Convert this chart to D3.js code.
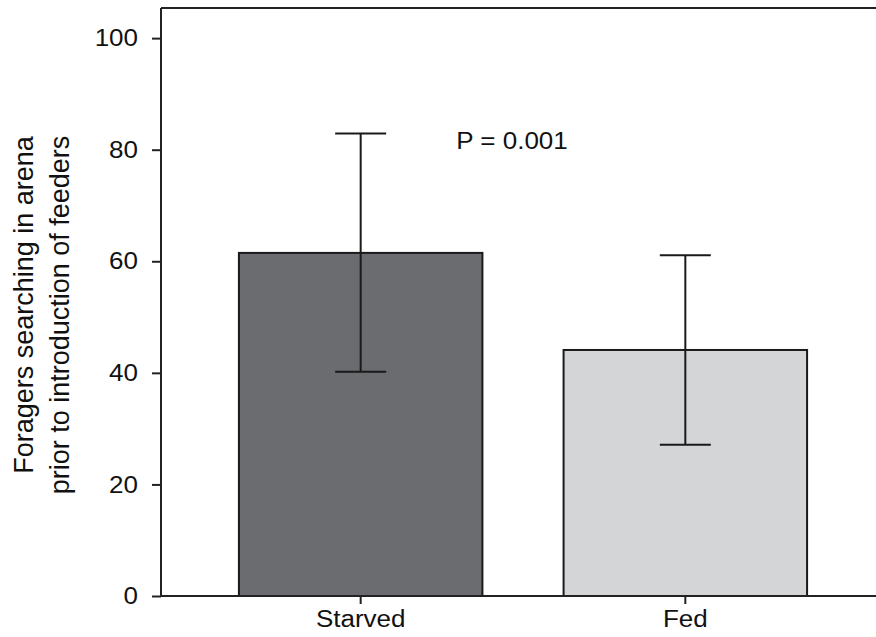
<!DOCTYPE html>
<html><head><meta charset="utf-8">
<script src="https://cdn.jsdelivr.net/npm/d3@7"></script>
<style>body{margin:0;background:#fff;}svg{display:block;}text{font-family:"Liberation Sans",Arial,sans-serif;fill:#111;}</style>
</head><body>
<svg id="c" width="876" height="637"></svg>
<script>
const categories = ["Starved", "Fed"];
const means = [61.5, 44.1];
const errLow = [40.2, 27.1];
const errHigh = [82.9, 61.1];
const barColors = ["#6b6c70", "#d4d5d7"];
const yTicks = [0, 20, 40, 60, 80, 100];
const annotation = "P = 0.001";
const yLabelLines = ["Foragers searching in arena", "prior to introduction of feeders"];

const svg = d3.select("#c");
const mLeft = 161, mRight = 885, mTop = 8, mBottom = 596;
const y = d3.scaleLinear().domain([0, 105.4]).range([mBottom, mTop]);
const x = d3.scaleBand().domain(categories).range([mLeft, mRight]).paddingInner(0.25).paddingOuter(0.24);

function stretch(sel, k) {
  sel.each(function () {
    const len = this.getComputedTextLength();
    d3.select(this).attr("textLength", len * k).attr("lengthAdjust", "spacingAndGlyphs");
  });
}

// frame (top line)
svg.append("line").attr("x1", mLeft).attr("x2", mRight).attr("y1", mTop).attr("y2", mTop)
  .attr("stroke", "#222").attr("stroke-width", 2);

// bars
svg.selectAll("rect.bar").data(categories).enter().append("rect")
  .attr("x", d => x(d)).attr("width", x.bandwidth())
  .attr("y", (d, i) => y(means[i])).attr("height", (d, i) => y(0) - y(means[i]))
  .attr("fill", (d, i) => barColors[i]).attr("stroke", "#1a1a1a").attr("stroke-width", 2);

// error bars
const capW = 51;
categories.forEach((c, i) => {
  const cx = x(c) + x.bandwidth() / 2;
  const g = svg.append("g").attr("stroke", "#1a1a1a").attr("stroke-width", 2);
  g.append("line").attr("x1", cx).attr("x2", cx).attr("y1", y(errLow[i])).attr("y2", y(errHigh[i]));
  g.append("line").attr("x1", cx - capW / 2).attr("x2", cx + capW / 2).attr("y1", y(errHigh[i])).attr("y2", y(errHigh[i]));
  g.append("line").attr("x1", cx - capW / 2).attr("x2", cx + capW / 2).attr("y1", y(errLow[i])).attr("y2", y(errLow[i]));
});

// axes
const yAxis = svg.append("g").attr("transform", `translate(${mLeft},0)`)
  .call(d3.axisLeft(y).tickValues(yTicks).tickSize(9).tickPadding(14).tickSizeOuter(0));
yAxis.select(".domain").attr("d", `M0,${mBottom}V${mTop}`).attr("stroke", "#222").attr("stroke-width", 2);
yAxis.selectAll(".tick line").attr("stroke", "#222").attr("stroke-width", 2);
yAxis.selectAll("text").style("font-size", "23px").attr("fill", "#111").attr("dy", "0.33em").call(stretch, 1.13);

const xAxis = svg.append("g").attr("transform", `translate(0,${mBottom})`)
  .call(d3.axisBottom(x).tickSize(8).tickPadding(7).tickSizeOuter(0));
xAxis.select(".domain").attr("d", `M${mLeft},0H${mRight}`).attr("stroke", "#222").attr("stroke-width", 2);
xAxis.selectAll(".tick line").attr("stroke", "#222").attr("stroke-width", 2);
xAxis.selectAll("text").style("font-size", "23px").attr("fill", "#111").call(stretch, 1.13);

// annotation
svg.append("text").attr("x", 512).attr("y", 149).attr("text-anchor", "middle")
  .style("font-size", "23px").text(annotation).call(stretch, 1.13);

// y label
const ylX = [33, 69], ylY = [305, 315];
yLabelLines.forEach((t, i) => {
  svg.append("text").attr("transform", `translate(${ylX[i]},${ylY[i]}) rotate(-90)`)
    .attr("text-anchor", "middle").style("font-size", "27px").text(t);
});
</script>
</body></html>
